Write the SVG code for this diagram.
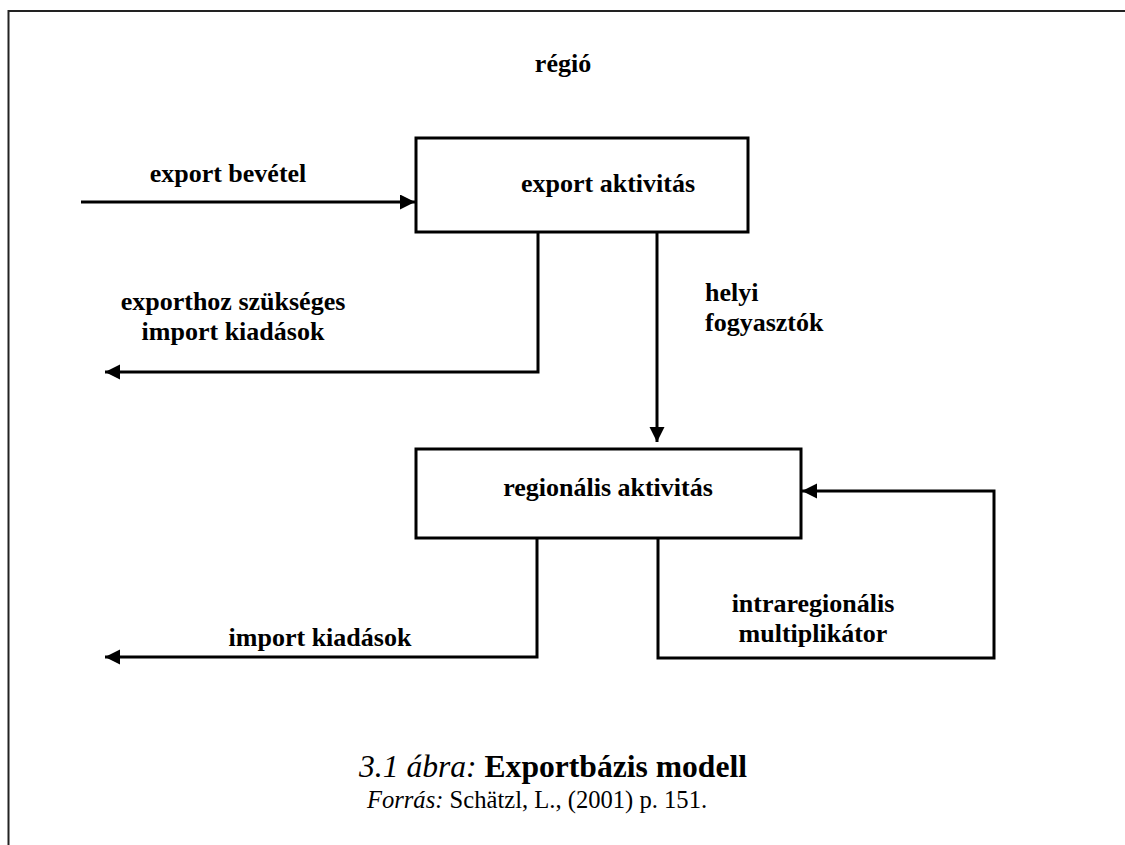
<svg xmlns="http://www.w3.org/2000/svg" width="1125" height="845" viewBox="0 0 1125 845">
  <style>
    .frame { fill: none; stroke: #222; stroke-width: 2; }
    .box { fill: #fff; stroke: #000; stroke-width: 3; }
    .wire { fill: none; stroke: #000; stroke-width: 3; stroke-linejoin: miter; }
    .lbl { font-family: "Liberation Serif", "Times New Roman", serif; font-weight: bold; font-size: 26px; fill: #000; }
    .cap { font-family: "Liberation Serif", "Times New Roman", serif; fill: #000; }
  </style>
  <defs>
    <marker id="arrow" markerUnits="userSpaceOnUse" markerWidth="16" markerHeight="16" refX="15" refY="7.5" orient="auto">
      <path d="M0,0 L15,7.5 L0,15 Z" fill="#000"/>
    </marker>
  </defs>
  <rect width="1125" height="845" fill="#fff"/>

  <!-- outer frame (top and left edges) -->
  <path class="frame" d="M8.5,845 L8.5,11 L1125,11"/>

  <text class="lbl" x="563" y="72" text-anchor="middle">régió</text>

  <g id="connectors">
    <path class="wire" d="M81,202 L415,202" marker-end="url(#arrow)"/>
    <path class="wire" d="M538,232 L538,372 L105,372" marker-end="url(#arrow)"/>
    <path class="wire" d="M657,232 L657,442" marker-end="url(#arrow)"/>
    <path class="wire" d="M537,538 L537,657 L105,657" marker-end="url(#arrow)"/>
    <path class="wire" d="M658,538 L658,658 L994,658 L994,491 L802,491" marker-end="url(#arrow)"/>
  </g>

  <g id="export-activity">
    <rect class="box" x="416" y="138" width="332" height="94"/>
    <text class="lbl" x="608" y="192" text-anchor="middle">export aktivitás</text>
  </g>

  <g id="regional-activity">
    <rect class="box" x="416" y="449" width="385" height="89"/>
    <text class="lbl" x="608" y="496" text-anchor="middle">regionális aktivitás</text>
  </g>

  <g id="labels">
    <text class="lbl" x="228" y="182" text-anchor="middle">export bevétel</text>
    <text class="lbl" x="233" y="310" text-anchor="middle">exporthoz szükséges</text>
    <text class="lbl" x="233" y="340" text-anchor="middle">import kiadások</text>
    <text class="lbl" x="705" y="301">helyi</text>
    <text class="lbl" x="705" y="331">fogyasztók</text>
    <text class="lbl" x="320" y="646" text-anchor="middle">import kiadások</text>
    <text class="lbl" x="813" y="612" text-anchor="middle">intraregionális</text>
    <text class="lbl" x="813" y="642" text-anchor="middle">multiplikátor</text>
  </g>

  <g id="caption">
    <text class="cap" x="553" y="777" text-anchor="middle" font-size="31.6"><tspan font-style="italic">3.1 ábra:</tspan> <tspan font-weight="bold">Exportbázis modell</tspan></text>
    <text class="cap" x="537" y="808" text-anchor="middle" font-size="24.6"><tspan font-style="italic">Forrás:</tspan> Schätzl, L., (2001) p. 151.</text>
  </g>
</svg>
